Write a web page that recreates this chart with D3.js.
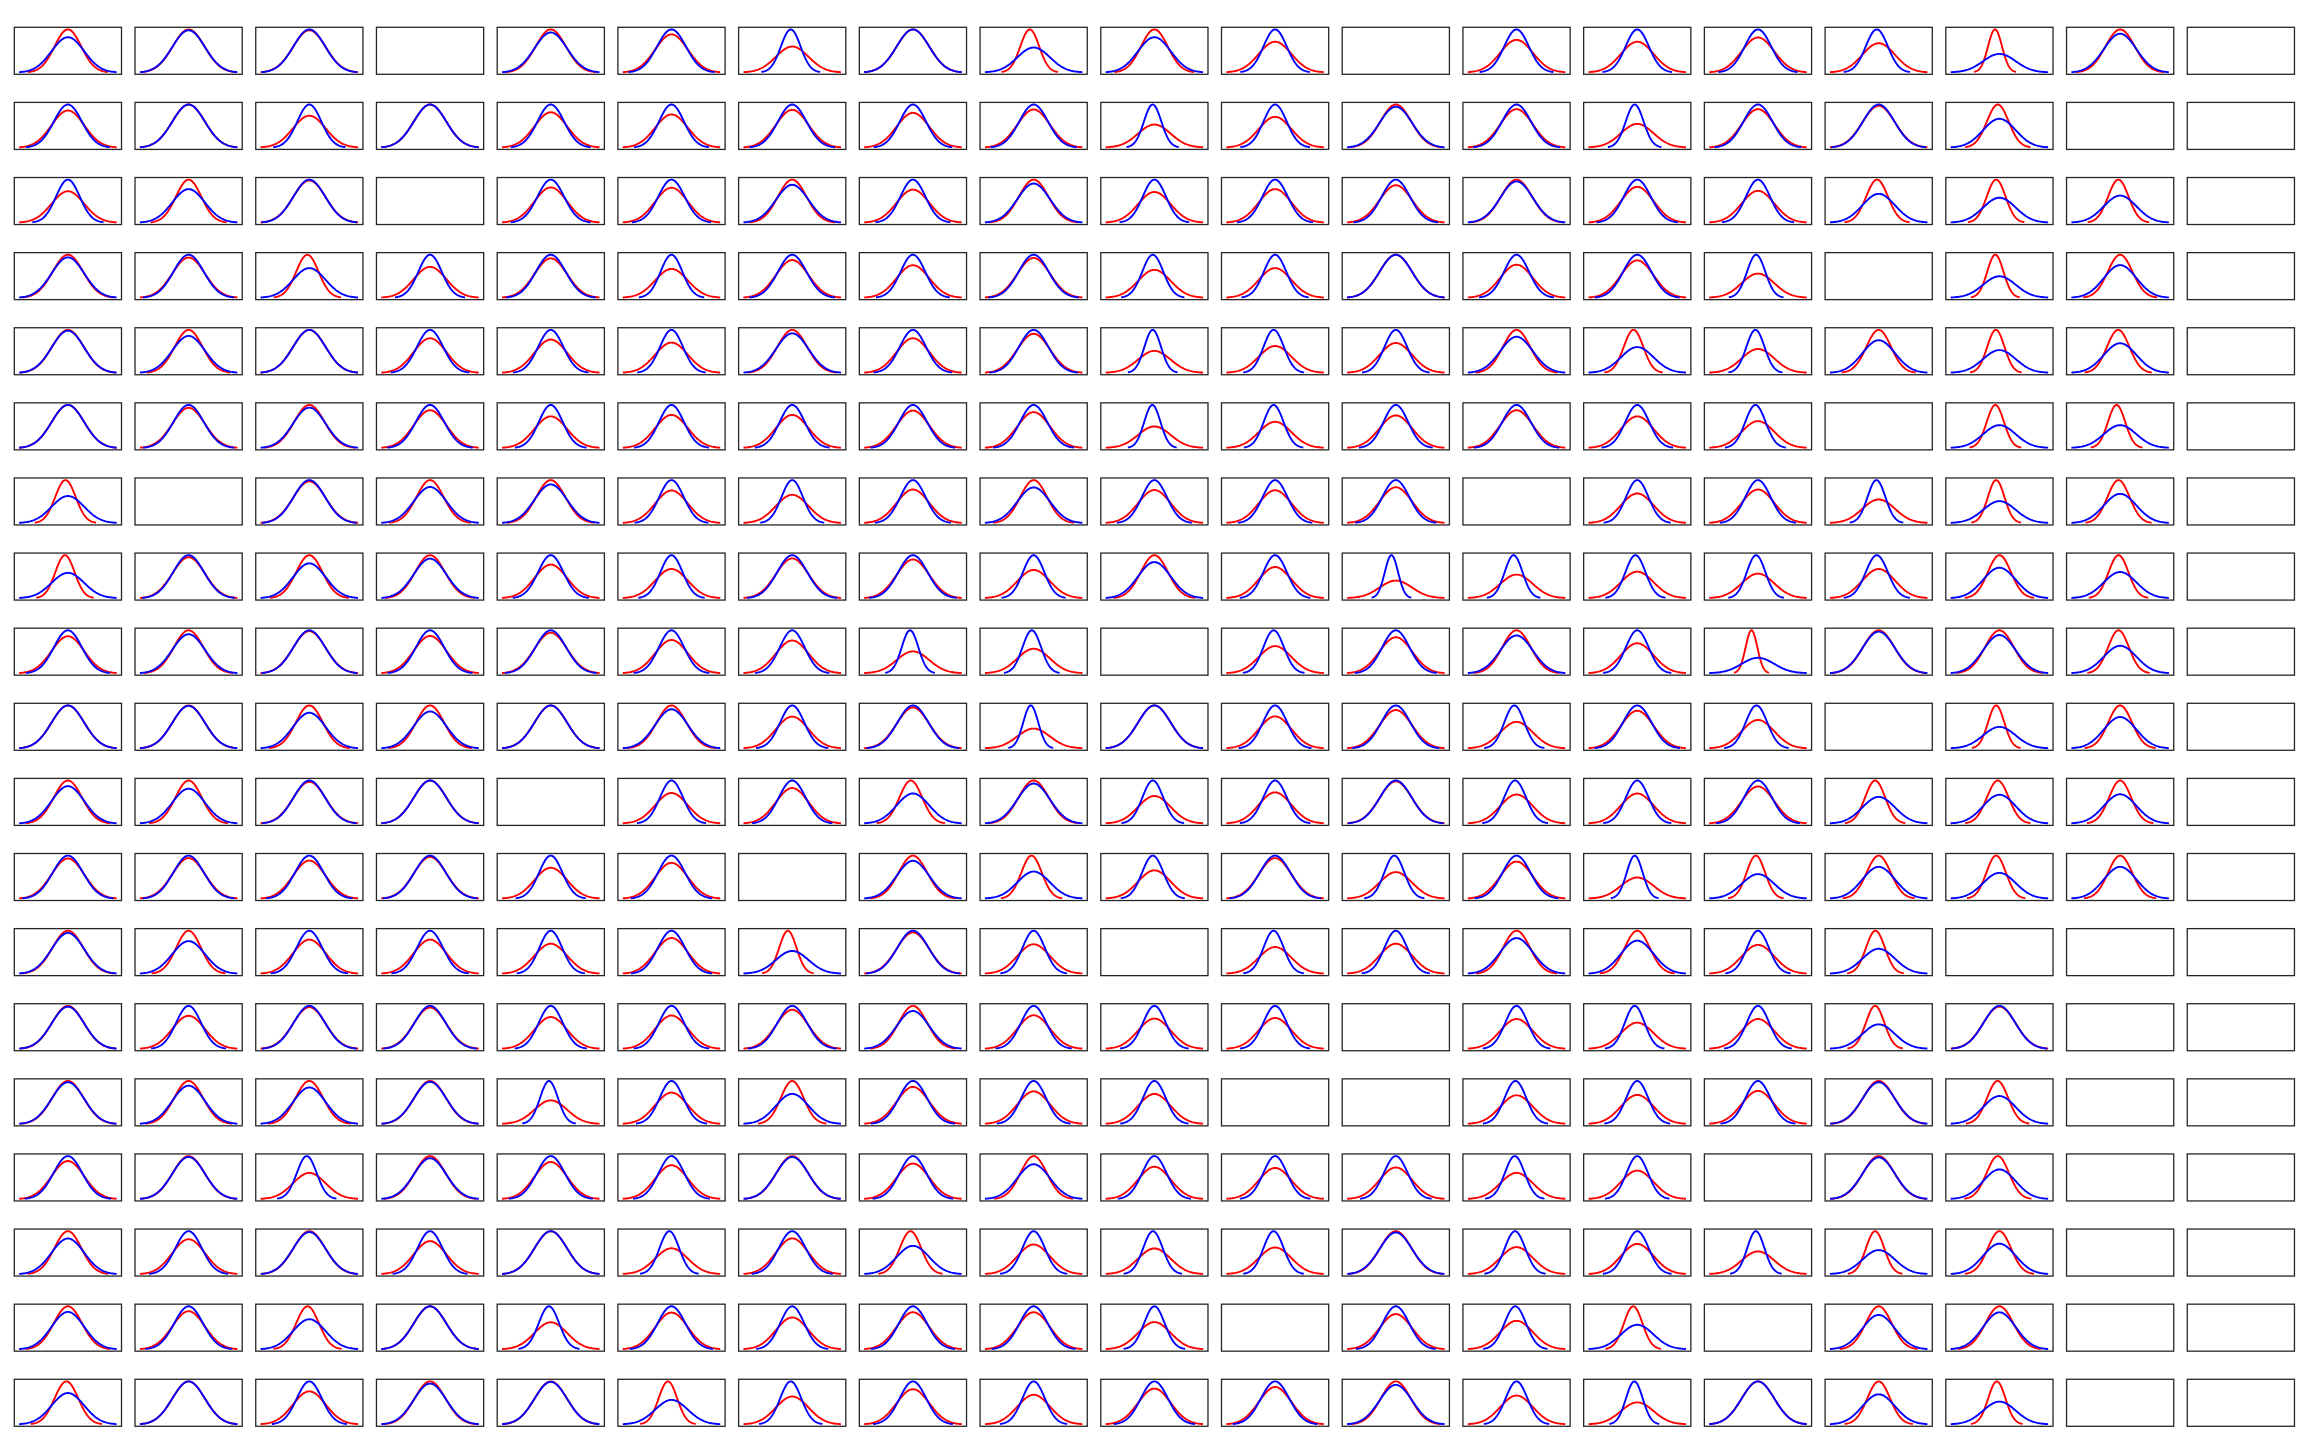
<!DOCTYPE html>
<html><head><meta charset="utf-8">
<script src="https://cdn.jsdelivr.net/npm/d3@7"></script>
<style>html,body{margin:0;padding:0;background:#fff}</style>
</head><body>
<script>
// Grid of 19 x 19 panels; each panel compares two normal distributions.
// Blue: N(blueMean, blueSd); Red: N(redMean[r][c], redSd[r][c]); null = empty panel.
const blueMean = 0;
const blueSd = 1;
const redSd = [
  [0.82,0.98,1.02,null,0.93,1.13,1.66,1.00,0.58,0.82,1.40,null,1.32,1.40,1.23,1.47,0.43,0.90,null],
  [1.16,1.00,1.35,1.00,1.22,1.30,1.14,1.24,1.13,1.87,1.40,0.95,1.12,1.82,1.12,1.03,0.67,null,null],
  [1.37,0.78,1.02,null,1.22,1.23,0.88,1.30,0.91,1.40,1.28,1.15,0.96,1.20,1.35,0.67,0.58,0.63,null],
  [0.94,1.07,0.69,1.39,1.09,1.49,1.14,1.32,1.08,1.54,1.45,1.00,1.30,1.15,1.78,null,0.50,0.76,null],
  [0.98,0.86,1.00,1.24,1.29,1.42,0.92,1.24,1.10,1.96,1.60,1.44,0.84,0.60,1.80,0.76,0.53,0.69,null],
  [1.00,1.07,0.94,1.14,1.36,1.30,1.30,1.15,1.20,2.00,1.64,1.32,1.14,1.36,1.60,null,0.53,0.53,null],
  [0.63,null,1.03,0.84,0.90,1.32,1.52,1.28,0.83,1.30,1.31,1.20,null,1.45,1.28,1.82,0.51,0.68,null],
  [0.59,1.05,0.81,0.92,1.28,1.47,1.08,1.11,1.52,0.84,1.38,2.45,1.82,1.62,1.75,1.47,0.71,0.61,null],
  [1.16,0.91,1.02,1.15,1.06,1.29,1.31,1.96,1.75,null,1.58,1.19,0.88,1.43,0.36,0.97,0.89,0.64,null],
  [1.00,0.99,0.83,0.86,1.00,0.91,1.35,1.05,2.17,1.00,1.34,1.12,1.62,1.14,1.51,null,0.50,0.73,null],
  [0.87,0.81,1.03,1.00,null,1.41,1.21,0.70,0.93,1.56,1.38,1.02,1.48,1.43,1.16,0.62,0.67,0.68,null],
  [1.07,1.06,1.13,1.03,1.39,1.20,null,0.88,0.63,1.52,1.06,1.62,1.16,2.04,0.57,0.74,0.60,0.74,null],
  [0.95,0.76,1.26,1.26,1.43,1.20,0.53,1.04,1.46,null,1.61,1.43,0.83,0.77,1.49,0.58,null,null,null],
  [0.98,1.30,1.03,1.04,1.35,1.29,1.10,0.88,1.28,1.42,1.39,null,1.44,1.64,1.44,0.57,1.02,null,null],
  [0.97,0.89,0.85,0.98,1.82,1.37,0.70,1.16,1.32,1.43,null,null,1.50,1.48,1.30,0.97,0.65,null,null],
  [1.13,0.98,1.64,0.95,1.16,1.27,0.98,1.21,0.81,1.33,1.38,1.36,1.64,1.51,null,0.97,0.69,null,null],
  [0.83,1.23,0.98,1.30,1.00,1.66,1.20,0.66,1.45,1.67,1.61,0.97,1.59,1.42,1.89,0.56,0.71,null,null],
  [0.87,1.13,0.70,1.00,1.59,1.17,1.35,1.16,1.16,1.58,null,1.22,1.51,0.57,null,0.80,0.86,null,null],
  [0.73,1.00,1.30,0.95,0.99,0.57,1.54,1.22,1.45,1.20,1.15,0.92,1.49,1.95,1.00,0.70,0.53,null,null]
];
const redMean = [
  [0,0,0,0,0,0,0.15,0,-0.24,0,0,0,0,0,0,0.17,-0.27,0,0],
  [0,0,0,0,0,0,0,0,0,0.20,0,0,0,0.29,0,0,-0.10,0,0],
  [0,0,0,0,0,0,0,0,0,0,0,0,0,0,0,-0.10,-0.20,-0.11,0],
  [0,0,-0.12,0,0,0,0,0,0,0.15,0,0,0,0,0.20,0,-0.25,0,0],
  [0,0,0,0,0,0,0,0,0,0.20,0.14,0,0,-0.23,0.28,0,-0.22,-0.12,0],
  [0,0,0,0,0,0,0,0,0,0.25,0.15,0,0,0,0.25,0,-0.25,-0.22,0],
  [-0.15,0,0,0,0,0,0,0,0,0,0,0,0,0,0,0.25,-0.20,-0.10,0],
  [-0.18,0,0,0,0,0,0,0,0,0,0,0.66,0.33,0.18,0.20,0.17,0,-0.10,0],
  [0,0,0,0,0,0,0,0.35,0.20,0,0.14,0,0,0,-0.40,0,0,-0.10,0],
  [0,0,0,0,0,0,0,0,0.39,0,0,0,0.22,0,0.14,0,-0.20,0,0],
  [0,0,0,0,0,0,0,-0.13,0,0.15,0,0,0.13,0,0,-0.22,-0.10,0,0],
  [0,0,0,0,0,0,0,0,-0.13,0.15,0,0.15,0,0.32,-0.13,0,-0.20,0,0],
  [0,0,0,0,0,0,-0.27,0,0,0,0.15,0,0,0,0,-0.20,0,0,0],
  [0,0,0,0,0,0,0,0,0,0,0,0,0,0.26,0,-0.22,0,0,0],
  [0,0,0,0,0.20,0,0,0,0,0,0,0,0.10,0,0,0,-0.11,0,0],
  [0,0,0.26,0,0,0,0,0,0,0,0,0,0.18,0,0,0,-0.10,0,0],
  [0,0,0,0,0,0.22,0,-0.15,0,0.15,0.15,0,0.15,0,0.25,-0.22,0,0,0],
  [0,0,-0.11,0,0.18,0,0,0,0,0,0,0,0.12,-0.25,0,0,0,0,0],
  [-0.09,0,0,0,0,-0.22,0.14,0,0,0,0,0,0,0.35,0,0,-0.16,0,0]
];
const seriesColors = {red: "#ff0000", blue: "#0000ff"};

const W = 2304, H = 1440;
const nRows = redSd.length, nCols = redSd[0].length;
const left0 = 14.3, colStep = 120.72, cellW = 107.2;
const top0 = 27.3, rowStep = 75.11, cellH = 47.0;

const svg = d3.select("body").append("svg")
  .attr("width", W).attr("height", H)
  .attr("viewBox", `0 0 ${W} ${H}`);
svg.append("rect").attr("width", W).attr("height", H).attr("fill", "#fff");

function pdf(x, m, s) {
  return Math.exp(-0.5 * ((x - m) / s) ** 2) / (s * Math.sqrt(2 * Math.PI));
}
function curve(m, s) {
  const n = 100, a = m - 3 * s, b = m + 3 * s;
  return d3.range(n).map(i => {
    const x = a + (b - a) * i / (n - 1);
    return [x, pdf(x, m, s)];
  });
}
function padded(ext) {
  const d = (ext[1] - ext[0]) * 0.05;
  return [ext[0] - d, ext[1] + d];
}

for (let r = 0; r < nRows; r++) {
  for (let c = 0; c < nCols; c++) {
    const x0 = left0 + c * colStep, y0 = top0 + r * rowStep;
    const g = svg.append("g");
    const sd = redSd[r][c];
    if (sd !== null) {
      const red = curve(redMean[r][c], sd);
      const blue = curve(blueMean, blueSd);
      const all = red.concat(blue);
      const xs = d3.scaleLinear().domain(padded(d3.extent(all, d => d[0]))).range([x0, x0 + cellW]);
      const ys = d3.scaleLinear().domain(padded(d3.extent(all, d => d[1]))).range([y0 + cellH, y0]);
      const line = d3.line().x(d => xs(d[0])).y(d => ys(d[1]));
      g.append("path").datum(red).attr("d", line).attr("fill", "none")
        .attr("stroke", seriesColors.red).attr("stroke-width", 1.9).attr("stroke-linejoin", "round");
      g.append("path").datum(blue).attr("d", line).attr("fill", "none")
        .attr("stroke", seriesColors.blue).attr("stroke-width", 1.9).attr("stroke-linejoin", "round");
    }
    g.append("rect").attr("x", x0).attr("y", y0).attr("width", cellW).attr("height", cellH)
      .attr("fill", "none").attr("stroke", "#262626").attr("stroke-width", 1.3);
  }
}
</script>
</body></html>
